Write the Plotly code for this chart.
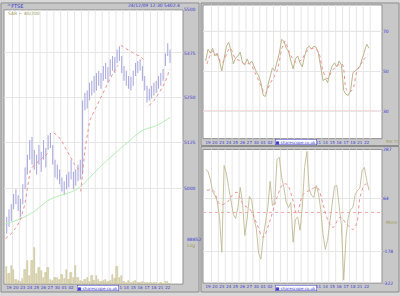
import numpy as np
import plotly.graph_objects as go

# ---------------- data ----------------
day_labels = ["19","20","23","24","25","26","27","30","01","02","03","04",
              "07","08","09","10","11","14","15","16","17","18","21","22"]
hidden_days = [10, 11, 12, 13, 14, 15]   # labels covered by the link box

price_low = [4881,4899,4914, 4945,4958,4940, 4925,4958,4998, 5037,5077,5064,
             5051,5037,5064, 5045,5077,5056, 5104,5109,5064, 5029,5024,5011,
             4992,4982,4998, 5003,5024,4998, 5008,5019,5024, 5037,5213,5218,
             5240,5254,5262, 5268,5282,5273, 5296,5301,5290, 5309,5324,5318,
             5346,5352,5318, 5296,5282,5273, 5268,5282,5309, 5318,5324,5296,
             5268,5235,5240, 5246,5254,5262, 5273,5282,5296, 5338,5366,5346]
price_high = [4925,4945,4958, 4985,4998,4982, 4972,5011,5056, 5091,5131,5139,
              5104,5091,5117, 5099,5131,5109, 5144,5150,5117, 5077,5064,5051,
              5029,5019,5037, 5045,5077,5045, 5051,5064,5077, 5240,5262,5268,
              5290,5296,5309, 5318,5324,5318, 5338,5346,5335, 5357,5366,5363,
              5385,5394,5366, 5338,5324,5309, 5307,5324,5346, 5352,5357,5338,
              5309,5282,5273, 5282,5290,5296, 5309,5318,5329, 5374,5403,5385]

volume = [36300,20200,38400,28300,8100,6100,4000,10100,28300,48500,16200,48500,
          74700,20200,32300,26200,12100,22200,34300,8100,6100,12100,12100,8100,
          18200,10100,28300,8100,22200,12100,38400,12100,6100,4000,8100,12100,
          4000,16200,6100,16200,8100,4000,6100,8100,4000,6100,18200,10100,
          36300,12100,16200,4000,2000,6100,2000,4000,6100,2000,2000,4000,
          2000,2000,2000,2000,2000,2000,0,2000,0,4000,4000,0]

sar_x = [0.0,0.7,1.4,2.1,2.8,3.3,3.6,4.2,5.0,5.8,6.4, None,
         7.0,7.6,8.2,8.8,9.4,10.0,10.6, None,
         10.9,11.5,12.2,13.0,13.7,14.7,15.6,16.3, None,
         16.7,17.4,18.1,18.8,19.5,20.2, None,
         20.8,21.5,22.1,22.7,23.3,23.8]
sar_y = [4868,4878,4894,4914,4958,5011,5051,5064,5077,5091,5099, None,
         5150,5142,5126,5104,5083,5064,5051, None,
         4992,5104,5185,5218,5246,5284,5318,5340, None,
         5397,5388,5380,5371,5366,5352, None,
         5226,5240,5257,5276,5301,5329]

sma_x = [-0.08,2.09,3.98,6.44,10.35,13.69,17.6,19.93,21.95,23.83]
sma_y = [4906,4919,4937,4971,4998,5058,5123,5158,5171,5193]

rsi = [55.2,61.1,59.1,61.6,57.7,59.1,55.2,50.2,56.2,62.6,64.6,60.1,
       53.7,56.7,57.7,59.6,54.2,53.2,56.2,53.7,55.2,52.2,49.8,47.8,
       44.3,37.9,37.4,42.8,47.8,51.7,50.2,55.2,59.1,66.0,65.1,61.6,
       60.1,55.2,51.2,56.2,57.7,54.2,52.2,57.7,61.6,62.6,61.1,62.6,
       62.1,59.1,52.7,45.3,46.3,44.3,49.3,52.7,54.2,52.2,55.2,53.2,
       40.4,38.4,37.9,40.4,49.3,50.2,51.2,52.2,56.2,60.1,63.6,61.6]
rsi_sig_x = [0.35,1.22,1.95,2.53,3.69,4.41,5.13,5.86,6.59,7.31,8.04,8.76,9.49,
             10.50,11.22,11.66,12.38,13.40,14.12,14.85,15.72,16.44,17.17,17.75,
             18.47,19.20,19.92,20.64,21.37,22.09,22.96,23.69]
rsi_sig = [53.7,60.1,57.2,54.2,61.6,56.7,55.2,53.7,53.7,49.3,43.8,38.9,43.8,
           50.2,61.6,65.1,58.6,54.2,56.2,60.1,61.6,60.1,50.2,46.3,
           50.2,52.7,53.7,40.4,40.4,50.2,55.2,58.6]

mom = [196,187,151,96,78,51,-22,-181,214,178,114,60,
       -8,-27,23,114,46,-104,-31,73,55,-31,-72,-186,
       -213,-113,-45,23,142,32,46,242,251,160,114,46,
       23,46,-136,-31,-22,-81,23,205,278,105,78,69,
       123,87,14,-99,-168,-127,-40,46,119,123,23,-58,
       -308,-113,-22,14,23,82,101,110,192,205,146,101]
mom_sig_x = [0.35,1.22,2.24,3.25,4.12,4.70,5.57,6.59,7.60,8.47,9.49,10.50,11.37,
             11.95,12.82,13.40,14.27,15.28,16.30,17.17,17.89,18.62,19.63,20.64,
             21.51,22.09,22.53,23.25,23.69]
mom_sig = [101,101,37,46,82,92,37,14,-54,-113,-36,69,128,
           128,55,-8,82,101,114,37,-36,-68,-22,-54,
           -77,-45,69,128,128]

price_ticks = [5000, 5125, 5250, 5375, 5500]
rsi_ticks = [30, 50, 70]
mom_ticks = [-322, -178, 64, 287]

# ---------------- helpers ----------------
W, H = 400, 296
def px(x): return x / W
def py(y): return 1 - y / H

BLUE = "#3a3ad0"
OLIVE = "#a09a5a"
GRID = "#e6e6e6"
XR = [-0.225, 25.715]

bar_x = np.arange(len(price_low)) / 3 + 1 / 6
n_days = len(day_labels)
shown = [i for i in range(n_days) if i not in hidden_days]
tick_x = [i + 0.5 for i in shown]
tick_t = [day_labels[i] for i in shown]

fig = go.Figure()

# volume
fig.add_trace(go.Bar(x=bar_x, y=volume, xaxis="x", yaxis="y2", width=0.2,
                     marker=dict(color="#ddd8b4", line=dict(color="#c4bc8c", width=0.5)),
                     showlegend=False))
# price high-low bars
hx, hy = [], []
for xv, lo, hi in zip(bar_x, price_low, price_high):
    hx += [xv, xv, None]
    hy += [lo, hi, None]
fig.add_trace(go.Scatter(x=hx, y=hy, mode="lines", xaxis="x", yaxis="y",
                         line=dict(color="#ababe0", width=1.1), showlegend=False))
# SMA (green)
fig.add_trace(go.Scatter(x=sma_x, y=sma_y, mode="lines", xaxis="x", yaxis="y",
                         line=dict(color="#b4eeb4", width=1, shape="spline"), showlegend=False))
# SAR (red dotted)
fig.add_trace(go.Scatter(x=sar_x, y=sar_y, mode="lines", xaxis="x", yaxis="y",
                         line=dict(color="#f09090", width=1, dash="dot"), showlegend=False))

# RSI
fig.add_trace(go.Scatter(x=bar_x, y=rsi, mode="lines", xaxis="x2", yaxis="y3",
                         line=dict(color="#bcb68c", width=1), showlegend=False))
fig.add_trace(go.Scatter(x=rsi_sig_x, y=rsi_sig, mode="lines", xaxis="x2", yaxis="y3",
                         line=dict(color="#f09090", width=1, dash="dot", shape="spline"),
                         showlegend=False))
# Momentum
fig.add_trace(go.Scatter(x=bar_x, y=mom, mode="lines", xaxis="x3", yaxis="y4",
                         line=dict(color="#c0ba92", width=0.9), showlegend=False))
fig.add_trace(go.Scatter(x=mom_sig_x, y=mom_sig, mode="lines", xaxis="x3", yaxis="y4",
                         line=dict(color="#f09090", width=1, dash="dot", shape="spline"),
                         showlegend=False))

shapes = []
# panel frames
for (x0, y0, x1, y1) in [(1, 1, 199, 295), (201, 1, 399, 146), (201, 147, 399, 295)]:
    shapes.append(dict(type="rect", xref="paper", yref="paper", layer="below",
                       x0=px(x0), x1=px(x1), y0=py(y1), y1=py(y0),
                       fillcolor="#c8c8c8", line=dict(color="#8c8c8c", width=1)))
# white plot areas
for xa, ya in [("x", "y"), ("x2", "y3"), ("x3", "y4")]:
    shapes.append(dict(type="rect", xref=xa + " domain", yref=ya + " domain", layer="below",
                       x0=0, x1=1, y0=0, y1=1, fillcolor="#ffffff",
                       line=dict(color="#909090", width=1)))
# day gridlines
for xa, ya in [("x", "y"), ("x2", "y3"), ("x3", "y4")]:
    for d in range(1, n_days + 1):
        shapes.append(dict(type="line", xref=xa, yref=ya + " domain", layer="below",
                           x0=d, x1=d, y0=0, y1=1, line=dict(color=GRID, width=1)))
# RSI 70/30 lines
for v in [30, 70]:
    shapes.append(dict(type="line", xref="x2 domain", yref="y3", x0=0, x1=1, y0=v, y1=v,
                       layer="below", line=dict(color="#f6a8a8", width=1)))
# momentum zero line
shapes.append(dict(type="line", xref="x3 domain", yref="y4", x0=0, x1=1, y0=0, y1=0,
                   layer="below", line=dict(color="#f6a8a8", width=1, dash="dot")))

tickfont = dict(family="DejaVu Sans", size=4, color=BLUE)

def xax(domain, anchor):
    return dict(domain=domain, anchor=anchor, range=XR, tickmode="array", tickvals=tick_x,
                ticktext=tick_t, tickfont=tickfont, tickangle=0, showgrid=False,
                zeroline=False, showline=False, ticks="", ticklen=0)

def yax(domain, anchor, rng, tv, typ="linear"):
    return dict(domain=domain, anchor=anchor, range=rng, type=typ, side="right",
                tickvals=tv, ticktext=[str(v) for v in tv],
                tickfont=dict(family="DejaVu Sans", size=4.5, color=BLUE),
                showgrid=True, gridcolor=GRID, zeroline=False, showline=False, ticks="")

fig.update_layout(
    width=W, height=H, margin=dict(l=0, r=0, t=0, b=0),
    paper_bgcolor="#d8d8d8", plot_bgcolor="#ffffff", showlegend=False,
    bargap=0,
    xaxis=xax([px(4), px(183)], "y"),
    yaxis=yax([py(287), py(8)], "x", [np.log10(4751), np.log10(5500)], price_ticks, "log"),
    yaxis2=dict(domain=[py(287), py(8)], anchor="x", overlaying="y", range=[0, 561000],
                visible=False),
    xaxis2=xax([px(203), px(382)], "y3"),
    yaxis3=yax([py(139), py(3)], "x2", [16.2, 83.3], rsi_ticks),
    xaxis3=xax([px(203), px(382)], "y4"),
    yaxis4=yax([py(286), py(150)], "x3", [-322, 287], mom_ticks),
    shapes=shapes,
)

ann = []
def t(x, y, s, color=BLUE, xa="left", size=5, **kw):
    ann.append(dict(xref="paper", yref="paper", x=px(x), y=py(y), text=s, showarrow=False,
                    xanchor=xa, yanchor="middle", font=dict(family="DejaVu Sans", size=size,
                    color=color), **kw))
t(5, 4, "^FTSE")
t(182, 4, "24/12/09 12:30 5402.4", xa="right", size=4.5)
t(6, 12, "SAR ~ 40/200", color=OLIVE, size=4.5)
t(185, 242, "88852", size=4.5)
t(185, 248, "Log", color=OLIVE, size=4.5)
t(384, 142, "RSI 73", color=OLIVE, size=4)
t(384, 224, "Mom", color=OLIVE, size=4.5)
for cx, cy in [(98, 291), (296, 142), (296, 291)]:
    t(cx, cy, "■ sharescope.co.uk", xa="center", size=4, bgcolor="#ffffff",
      bordercolor=BLUE, borderwidth=0.5, borderpad=0)
fig.update_layout(annotations=ann)

fig.write_html("out.html")
